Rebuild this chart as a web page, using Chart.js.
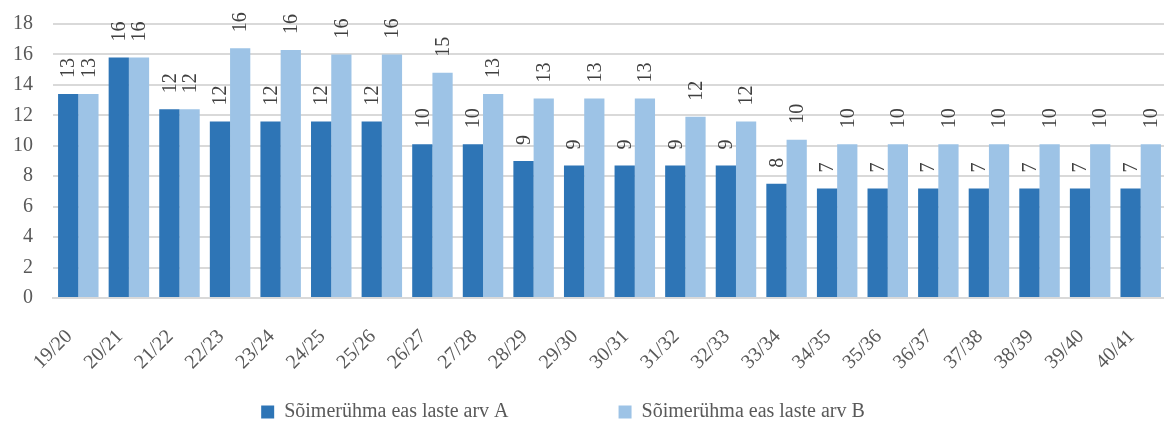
<!DOCTYPE html>
<html>
<head>
<meta charset="utf-8">
<script src="https://cdn.jsdelivr.net/npm/chart.js@4"></script>
<style>
html,body{margin:0;padding:0;background:#fff;overflow:hidden;}
#wrap{width:1170px;height:423px;}
</style>
</head>
<body>
<div id="wrap"><canvas id="c" width="1170" height="423"></canvas></div>
<script>
const categories = ["19/20","20/21","21/22","22/23","23/24","24/25","25/26","26/27","27/28","28/29","29/30","30/31","31/32","32/33","33/34","34/35","35/36","36/37","37/38","38/39","39/40","40/41"];
const seriesA = [13.4,15.8,12.4,11.6,11.6,11.6,11.6,10.1,10.1,9.0,8.7,8.7,8.7,8.7,7.5,7.2,7.2,7.2,7.2,7.2,7.2,7.2];
const seriesB = [13.4,15.8,12.4,16.4,16.3,16.0,16.0,14.8,13.4,13.1,13.1,13.1,11.9,11.6,10.4,10.1,10.1,10.1,10.1,10.1,10.1,10.1];
const seriesNames = ["Sõimerühma eas laste arv A","Sõimerühma eas laste arv B"];
const yTicks = [0,2,4,6,8,10,12,14,16,18];

const FONT = "'Liberation Serif', 'DejaVu Serif', serif";
const LEGEND_GAP = 110;
const LEGEND_HEIGHT = 45;
const LEGEND_SHIFT_X = -20;
const X_AXIS_HEIGHT = 80;

const labelPlugin = {
  id: 'barLabels',
  afterDatasetsDraw(chart) {
    const ctx = chart.ctx;
    ctx.save();
    ctx.font = "20px " + FONT;
    ctx.fillStyle = "#404040";
    chart.data.datasets.forEach((ds, di) => {
      const meta = chart.getDatasetMeta(di);
      meta.data.forEach((el, i) => {
        const v = ds.data[i];
        ctx.save();
        ctx.translate(el.x, el.y - 16);
        ctx.rotate(-Math.PI / 2);
        ctx.textAlign = 'left';
        ctx.textBaseline = 'middle';
        ctx.fillText(String(Math.round(v)), 0, 1);
        ctx.restore();
      });
    });
    ctx.restore();
  }
};

const chart = new Chart(document.getElementById('c'), {
  type: 'bar',
  data: {
    labels: categories,
    datasets: [
      { label: seriesNames[0], data: seriesA, backgroundColor: '#2E75B6', borderWidth: 0 },
      { label: seriesNames[1], data: seriesB, backgroundColor: '#9DC3E6', borderWidth: 0 }
    ]
  },
  options: {
    responsive: false,
    animation: false,
    devicePixelRatio: 1,
    layout: { padding: { left: 0, right: 4, top: 24, bottom: 0 } },
    datasets: { bar: { categoryPercentage: 0.8, barPercentage: 1.0 } },
    plugins: {
      legend: {
        position: 'bottom',
        labels: {
          font: { family: FONT, size: 20 },
          color: '#595959',
          boxWidth: 13,
          boxHeight: 13,
          padding: LEGEND_GAP
        }
      },
      tooltip: { enabled: false }
    },
    scales: {
      x: {
        grid: { display: false },
        border: { color: '#d9d9d9', width: 2 },
        ticks: {
          font: { family: FONT, size: 20 },
          color: '#595959',
          maxRotation: 45,
          minRotation: 45,
          padding: 19,
          labelOffset: -9
        },
        afterFit(scale) {
          scale.height = X_AXIS_HEIGHT;
          scale.paddingTop = 0;
          scale.paddingLeft = 0;
          scale.paddingRight = 0;
        }
      },
      y: {
        min: 0,
        max: 18,
        afterBuildTicks(scale) { scale.ticks = yTicks.map(v => ({ value: v })); },
        grid: { color: '#d9d9d9', lineWidth: 2, drawTicks: false },
        border: { display: false },
        ticks: {
          font: { family: FONT, size: 20 },
          color: '#595959',
          padding: 20
        },
        afterFit(scale) { scale.width = 53; scale.paddingTop = 0; scale.paddingBottom = 0; }
      }
    }
  },
  plugins: [labelPlugin]
});

// Compact legend box with a wide horizontal gap between the two items
const leg = chart.legend;
if (leg) {
  const origFit = leg.fit.bind(leg);
  leg.fit = function () { origFit(); this.height = LEGEND_HEIGHT; };
  const origInnerDraw = leg._draw.bind(leg);
  leg._draw = function () {
    const c = this.ctx;
    c.save();
    const targetCenter = 412;
    const currentCenter = this.top + LEGEND_GAP + 10;
    c.translate(LEGEND_SHIFT_X, targetCenter - currentCenter);
    origInnerDraw();
    c.restore();
  };
  chart.update();
}
</script>
</body>
</html>
